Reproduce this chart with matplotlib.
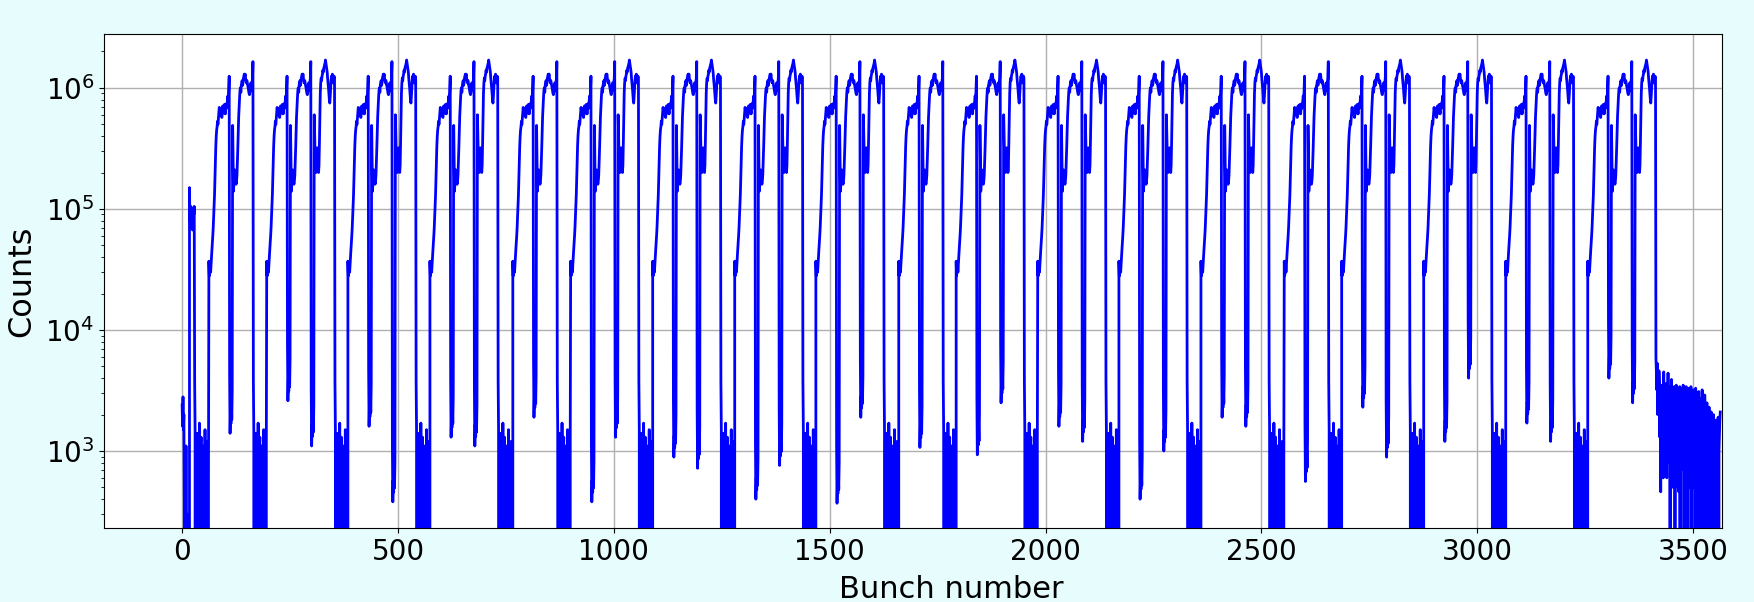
import matplotlib
matplotlib.use('Agg')
import matplotlib.pyplot as plt
import numpy as np

N_BUNCHES = 3564

# ---- values ----
# bunches 0-16, before the pilot batch
head = [2400, 1600, 2800, 1500, 2000, 400, 0, 350, 0, 1100, 0, 0, 300, 0, 0, 0, 0]
# 12-bunch pilot batch, bunches 17-28
pilot = [1.5e5, 8.0e4, 9.0e4, 1.05e5, 7.0e4, 8.5e4, 1.0e5, 6.7e4, 8.0e4, 1.0e5, 9.0e4, 1.05e5]

# counts along a 48-bunch batch (first, second, third batch of an injection)
batch1 = [3.7e4, 2.8e4, 3.3e4, 3.6e4, 3.0e4, 3.5e4, 4.0e4, 4.6e4, 5.2e4, 6.0e4,
          7.0e4, 8.5e4, 1.05e5, 1.3e5, 1.8e5, 2.5e5, 3.3e5, 4.0e5, 4.5e5, 4.8e5,
          5.3e5, 5.0e5, 5.6e5, 6.2e5, 6.9e5, 6.5e5, 6.0e5, 6.4e5, 6.8e5, 6.1e5,
          5.7e5, 6.4e5, 7.1e5, 6.7e5, 6.2e5, 6.8e5, 7.3e5, 6.6e5, 6.1e5, 6.9e5,
          7.4e5, 6.8e5, 7.2e5, 7.8e5, 8.6e5, 7.5e5, 1.0e6, 1.25e6]
batch2 = [4.9e5, 2.5e5, 1.4e5, 1.7e5, 2.0e5, 2.1e5, 1.8e5, 1.7e5, 1.6e5, 1.7e5,
          1.9e5, 2.4e5, 3.2e5, 4.5e5, 5.8e5, 7.0e5, 8.2e5, 9.5e5, 1.0e6, 9.2e5,
          1.05e6, 1.1e6, 1.15e6, 1.05e6, 1.1e6, 1.2e6, 1.25e6, 1.3e6, 1.25e6, 1.3e6,
          1.2e6, 1.15e6, 1.1e6, 1.15e6, 1.1e6, 1.05e6, 1.0e6, 9.5e5, 9.0e5, 8.8e5,
          9.2e5, 1.0e6, 1.1e6, 1.05e6, 9.5e5, 1.1e6, 1.2e6, 1.65e6]
batch3 = [6.0e5, 4.0e5, 2.8e5, 2.2e5, 2.0e5, 2.4e5, 2.9e5, 3.2e5, 3.0e5, 2.5e5,
          2.0e5, 2.3e5, 3.5e5, 6.0e5, 9.0e5, 1.1e6, 1.2e6, 1.15e6, 1.25e6, 1.3e6,
          1.4e6, 1.35e6, 1.45e6, 1.5e6, 1.55e6, 1.6e6, 1.7e6, 1.6e6, 1.5e6, 1.4e6,
          1.35e6, 1.2e6, 1.1e6, 1.0e6, 9.0e5, 8.0e5, 7.5e5, 8.5e5, 1.0e6, 1.15e6,
          1.25e6, 1.2e6, 1.3e6, 1.2e6, 1.1e6, 1.2e6, 1.25e6, 1.2e6]

# 7-bunch gap between batches, relative to the lowest point of the dip
short_gap = [3.0, 1.0, 1.5, 1.2, 1.8, 1.3, 2.2]
# empty bunches between injections
gap_noise = [3800, 1500, 0, 1100, 500, 0, 1400, 0, 800, 350,
             0, 1700, 0, 0, 900, 1300, 0, 450, 0, 1100,
             0, 700, 0, 0, 1500, 0, 400, 900, 0, 0,
             1200, 0, 600, 0, 1000, 0, 0, 800, 0, 0]

# injections: first bunch, number of batches, bottom of each inter-batch dip
inj_start = [62, 196, 384, 574, 766, 900, 1090, 1280, 1468, 1660,
             1793, 1982, 2170, 2360, 2553, 2686, 2876, 3066, 3256]
inj_nbatch = [2, 3, 3, 3, 2, 3, 3, 3, 3, 2,
              3, 3, 3, 3, 2, 3, 3, 3, 3]
gap_dip = [[1400], [2600, 1100], [1600, 380], [1300, 1100], [1900],
           [380, 1300], [890, 720], [400, 760], [370, 1900], [1070],
           [930, 2500], [1600, 1200], [400, 1000], [1900, 1600], [560],
           [2300, 890], [1200, 4000], [1700, 1200], [4000, 2500]]

# bunches 3414-3563, after the last train
tail = [5900, 4500, 3200, 5300, 2000, 4200, 2200, 4600, 3600, 1300,
        2200, 460, 1800, 700, 3500, 1100, 2400, 600, 4500, 1100,
        2700, 900, 1600, 3600, 1500, 600, 2900, 1200, 4400, 800,
        1900, 3400, 1200, 0, 2600, 700, 3900, 500, 1500, 3100,
        900, 1800, 3400, 600, 0, 2800, 1100, 3500, 800, 1300,
        3200, 500, 2400, 460, 1700, 3400, 0, 1900, 3300, 700,
        900, 2700, 1200, 3500, 600, 0, 2200, 3100, 1000, 600,
        3400, 800, 1500, 0, 2900, 1100, 3300, 700, 1400, 2500,
        500, 3400, 0, 1200, 2800, 900, 600, 3200, 500, 1600,
        2600, 0, 3300, 800, 1700, 2200, 2900, 800, 0, 3100,
        700, 2300, 1400, 0, 2700, 1000, 600, 3200, 900, 1500,
        0, 2400, 700, 2900, 1300, 600, 2000, 0, 2500, 800,
        1100, 1800, 600, 2300, 0, 1500, 1200, 700, 2100, 0,
        1500, 900, 400, 2000, 1300, 0, 1100, 700, 1800, 900,
        0, 1300, 600, 700, 1900, 0, 1000, 1400, 1800, 2100]

# ---- assemble counts per bunch ----
counts = np.zeros(N_BUNCHES)


def put(values, at):
    counts[at:at + len(values)] = values


put(head, 0)
put(pilot, 17)
put(gap_noise[:inj_start[0] - 29], 29)
profiles = [batch1, batch2, batch3]
for i, (s, nb) in enumerate(zip(inj_start, inj_nbatch)):
    for k in range(nb):
        put(profiles[k], s + 55 * k)
        if k < nb - 1:
            put([r * gap_dip[i][k] for r in short_gap], s + 55 * k + 48)
    end = s + 55 * (nb - 1) + 48
    if i + 1 < len(inj_start):
        put(gap_noise[:inj_start[i + 1] - end], end)
put(tail, 3414)

bunch = np.arange(N_BUNCHES)

# ---- plot ----
fig = plt.figure(figsize=(17.54, 6.02), dpi=100, facecolor='#e6fcfd')
ax = fig.add_axes([104 / 1754, 74 / 602, 1618 / 1754, 494 / 602])
ax.set_facecolor('white')

ax.plot(bunch, counts, '-', color='blue', linewidth=2)
ax.set_yscale('log')
ax.set_xlim(-181, 3567)
ax.set_ylim(231, 2.79e6)
ax.set_xticks(np.arange(0, 3501, 500))
ax.grid(True, which='major', color='#b0b0b0', linewidth=1.0)

ax.set_xlabel('Bunch number', fontsize=22, labelpad=7, x=0.5235)
ax.set_ylabel('Counts', fontsize=23, labelpad=6)
ax.tick_params(axis='both', which='major', labelsize=20)

fig.savefig('out.png', dpi=100, facecolor=fig.get_facecolor())
